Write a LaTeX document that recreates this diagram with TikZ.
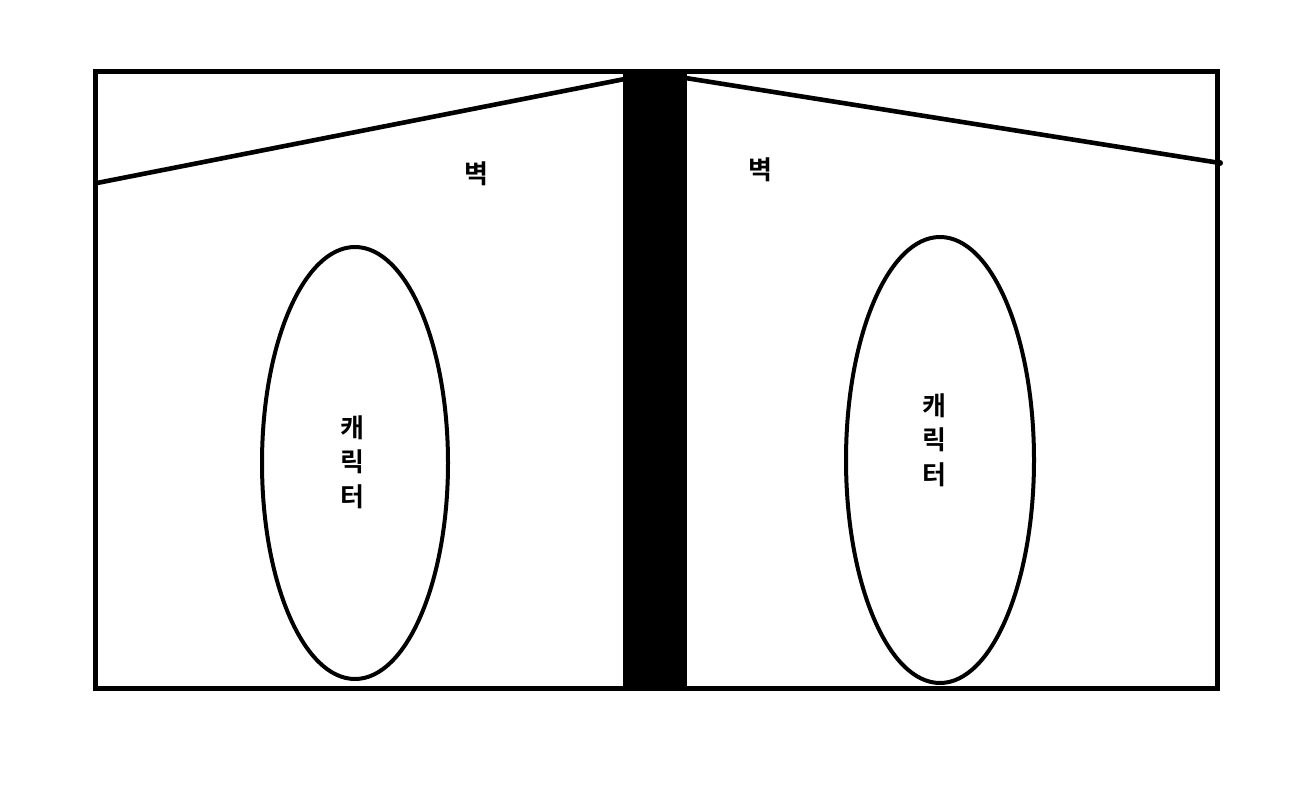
\documentclass[tikz,border=0pt]{standalone}
\usepackage{fontspec}
\usetikzlibrary{shapes.geometric}
\newfontfamily\cjk{Noto Sans CJK KR}[BoldFont={Noto Sans CJK KR Bold}]
\begin{document}
\begin{tikzpicture}[x=1pt,y=-1pt,
  edge/.style={line width=4.6pt},
  lbl/.style={font=\cjk\bfseries\fontsize{26}{30}\selectfont, inner sep=0pt},
  charlbl/.style={font=\cjk\bfseries\fontsize{26}{34.5}\selectfont, inner sep=0pt, align=center}]
\useasboundingbox[fill=white] (0,0) rectangle (1300,805);
\draw[edge] (95.5,71.5) rectangle (1217.5,688.5);
\fill (623,72) rectangle (687,691);
\coordinate (lA) at (97,183);
\coordinate (lB) at (640,76);
\coordinate (rA) at (673,76);
\coordinate (rB) at (1220,163);
\draw[edge] (lA) -- (lB);
\draw[edge] (rA) -- (rB);
\fill (rB) circle (3);
\node[draw, line width=4pt, ellipse, minimum width=186pt, minimum height=432pt, inner sep=0pt] (e1) at (355,463) {};
\node[draw, line width=4pt, ellipse, minimum width=188pt, minimum height=446pt, inner sep=0pt] (e2) at (940,460) {};
\node[lbl] (w1) at (476,174) {벽};
\node[lbl] (w2) at (760,170) {벽};
\node[charlbl] (c1) at (352,462) {캐\\릭\\터};
\node[charlbl] (c2) at (934,440) {캐\\릭\\터};
\end{tikzpicture}
\end{document}
